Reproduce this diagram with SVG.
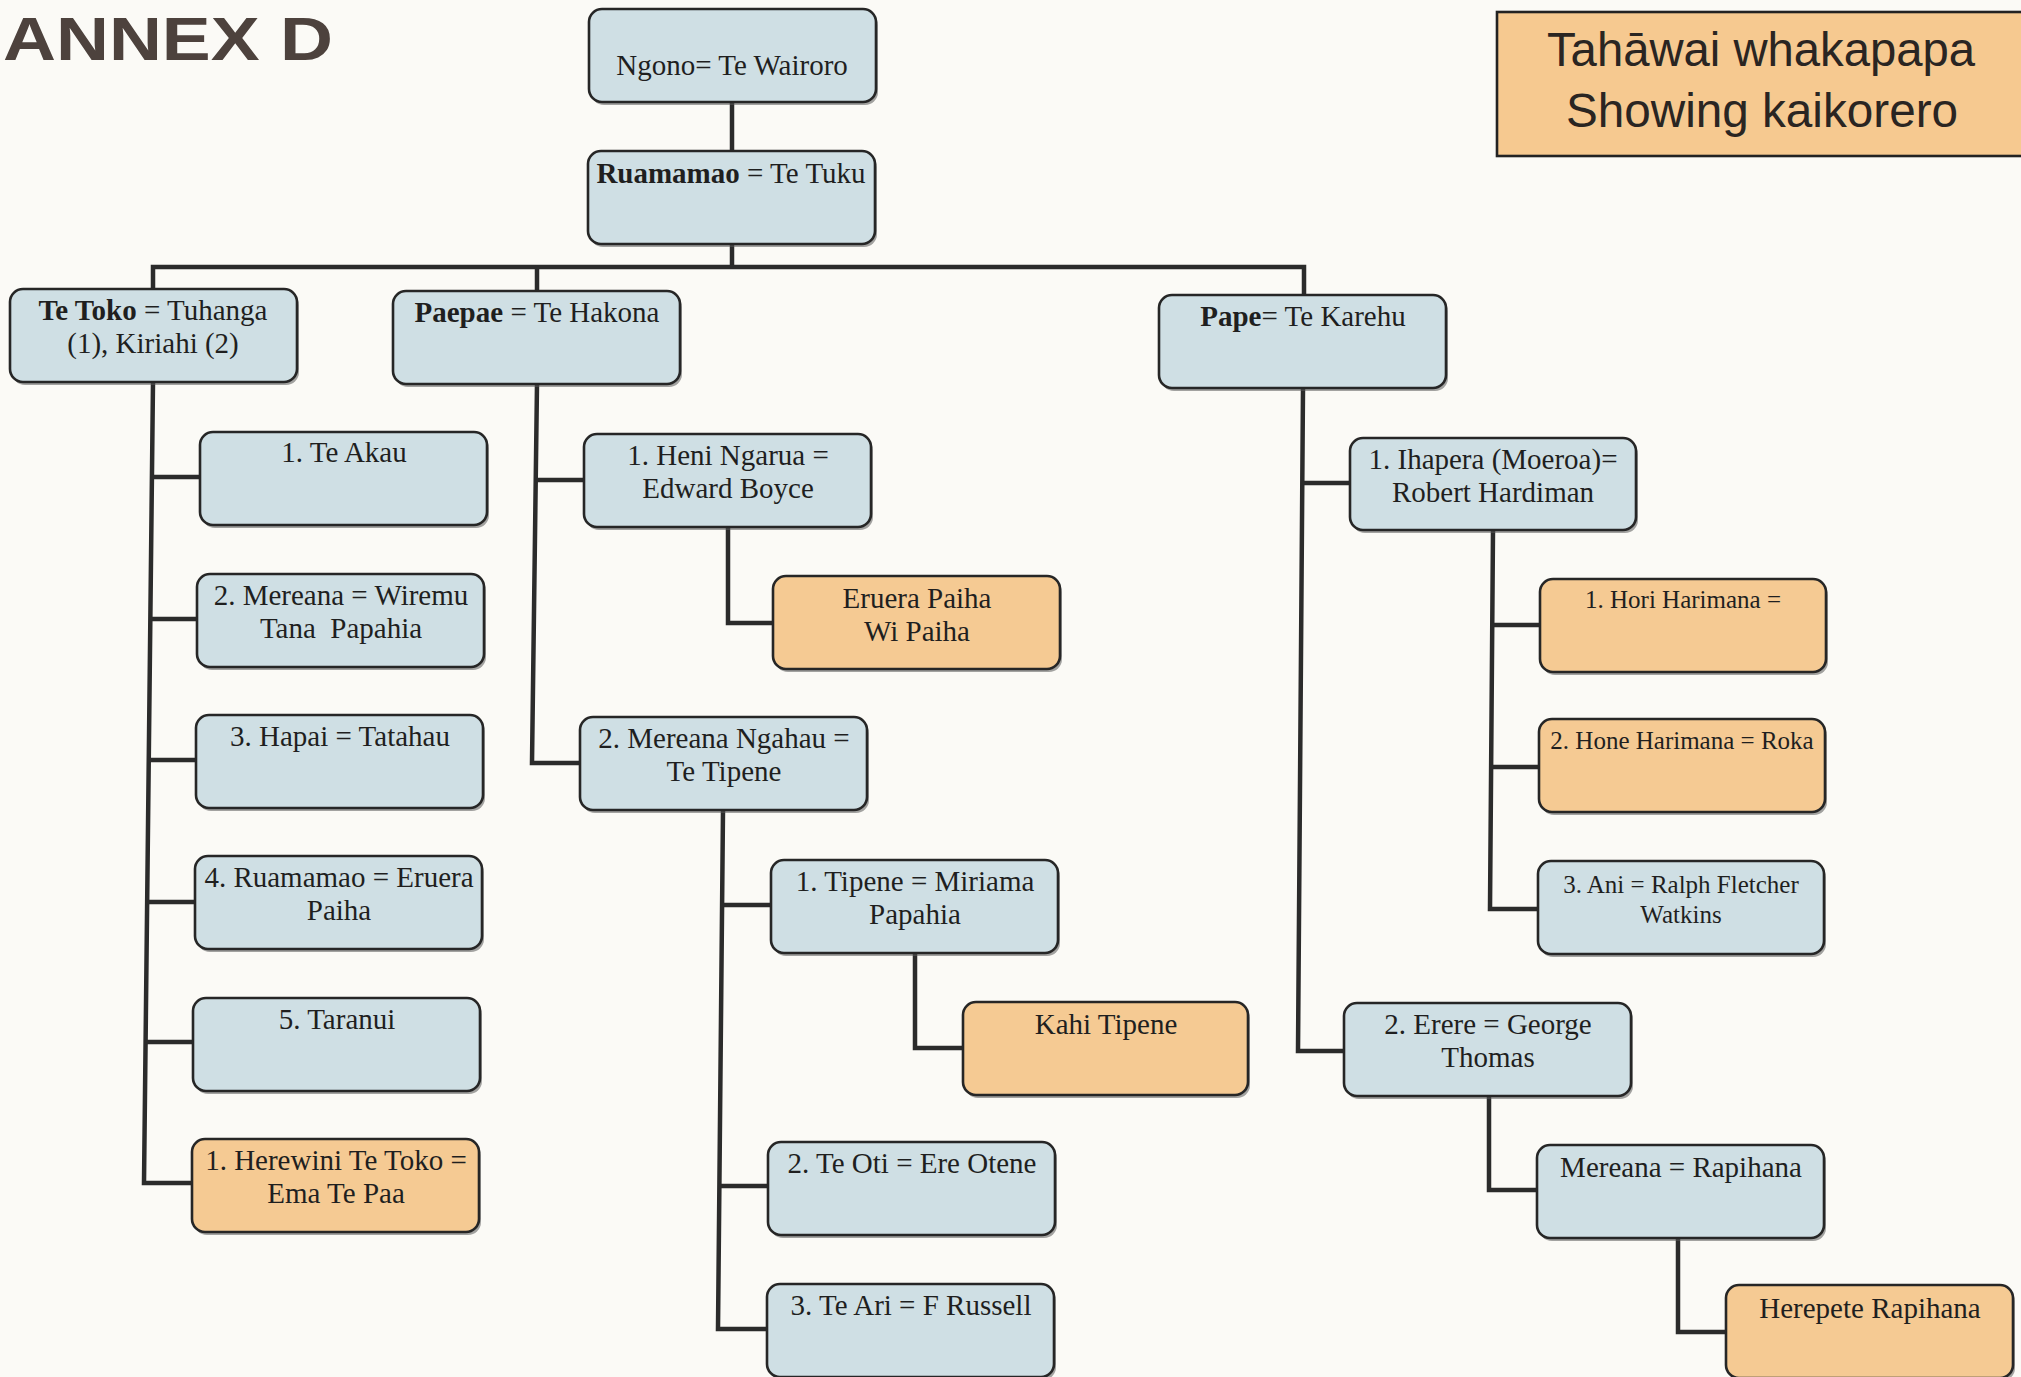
<svg xmlns="http://www.w3.org/2000/svg" width="2021" height="1377" viewBox="0 0 2021 1377">
<defs>
<style>
.bg{fill:#fbfaf6}
.box{stroke:#262626;stroke-width:2.6}
.blue{fill:#cfdfe4}
.orange{fill:#f5ca93}
.shadow{fill:#5a5a5a;opacity:0.55}
.t{font-family:"Liberation Serif","Times New Roman",serif;font-size:29px;fill:#1f1f1f;text-anchor:middle}
.ts{font-family:"Liberation Serif","Times New Roman",serif;font-size:25px;fill:#1f1f1f;text-anchor:middle}
.b{font-weight:bold}
.conn{fill:none;stroke:#2b2b2b;stroke-width:4.5;stroke-linejoin:miter}
.title{font-family:"Liberation Sans",Arial,sans-serif;font-size:48px;fill:#2a2522;text-anchor:middle}
.annex{font-family:"Liberation Sans",Arial,sans-serif;font-weight:bold;font-size:62px;fill:#4d423d}
</style>
</defs>
<rect class="bg" x="0" y="0" width="2021" height="1377"/>

<text class="annex" x="3" y="60" textLength="330" lengthAdjust="spacingAndGlyphs">ANNEX D</text>

<g id="title">
<rect x="1497" y="12" width="560" height="144" fill="#f6c990" stroke="#222" stroke-width="2.6"/>
<text class="title" x="1761" y="66" textLength="428" lengthAdjust="spacingAndGlyphs">Tahāwai whakapapa</text>
<text class="title" x="1762" y="127" textLength="392" lengthAdjust="spacingAndGlyphs">Showing kaikorero</text>
</g>

<g id="connectors">
<path class="conn" d="M732,103 V151"/>
<path class="conn" d="M732,244 V267"/>
<path class="conn" d="M153,289 V267 H1304 V295"/>
<path class="conn" d="M537,267 V291"/>
<path class="conn" d="M153,382 L144,1183 H192"/>
<path class="conn" d="M152,477 H200"/>
<path class="conn" d="M150,619 H197"/>
<path class="conn" d="M149,760 H196"/>
<path class="conn" d="M147,902 H195"/>
<path class="conn" d="M145,1042 H193"/>
<path class="conn" d="M537,384 L532,763 H580"/>
<path class="conn" d="M536,480 H584"/>
<path class="conn" d="M728,527 V623 H773"/>
<path class="conn" d="M723,810 L718,1329 H767"/>
<path class="conn" d="M722,905 H771"/>
<path class="conn" d="M719,1186 H768"/>
<path class="conn" d="M915,953 V1048 H963"/>
<path class="conn" d="M1303,388 L1298,1051 H1344"/>
<path class="conn" d="M1302,483 H1350"/>
<path class="conn" d="M1493,530 L1490,909 H1538"/>
<path class="conn" d="M1492,625 H1540"/>
<path class="conn" d="M1491,767 H1539"/>
<path class="conn" d="M1489,1096 V1190 H1537"/>
<path class="conn" d="M1678,1238 V1332 H1726"/>
</g>

<g id="n-ngono">
<rect class="shadow" x="591" y="12" width="287" height="93" rx="13"/>
<rect class="box blue" x="589" y="9" width="287" height="93" rx="13"/>
<text class="t" x="732" y="75">Ngono= Te Wairoro</text>
</g>
<g id="n-ruamamao">
<rect class="shadow" x="590" y="154" width="287" height="93" rx="13"/>
<rect class="box blue" x="588" y="151" width="287" height="93" rx="13"/>
<text class="t" x="731" y="183"><tspan class="b">Ruamamao</tspan> = Te Tuku</text>
</g>
<g id="n-tetoko">
<rect class="shadow" x="12" y="292" width="287" height="93" rx="13"/>
<rect class="box blue" x="10" y="289" width="287" height="93" rx="13"/>
<text class="t" x="153" y="320"><tspan class="b">Te Toko</tspan> = Tuhanga</text>
<text class="t" x="153" y="353">(1), Kiriahi (2)</text>
</g>
<g id="n-paepae">
<rect class="shadow" x="395" y="294" width="287" height="93" rx="13"/>
<rect class="box blue" x="393" y="291" width="287" height="93" rx="13"/>
<text class="t" x="537" y="322"><tspan class="b">Paepae</tspan> = Te Hakona</text>
</g>
<g id="n-pape">
<rect class="shadow" x="1161" y="298" width="287" height="93" rx="13"/>
<rect class="box blue" x="1159" y="295" width="287" height="93" rx="13"/>
<text class="t" x="1303" y="326"><tspan class="b">Pape</tspan>= Te Karehu</text>
</g>

<g id="n-teakau">
<rect class="shadow" x="202" y="435" width="287" height="93" rx="13"/>
<rect class="box blue" x="200" y="432" width="287" height="93" rx="13"/>
<text class="t" x="344" y="462">1. Te Akau</text>
</g>
<g id="n-mereana-wiremu">
<rect class="shadow" x="199" y="577" width="287" height="93" rx="13"/>
<rect class="box blue" x="197" y="574" width="287" height="93" rx="13"/>
<text class="t" x="341" y="605">2. Mereana = Wiremu</text>
<text class="t" x="341" y="638" style="white-space:pre">Tana  Papahia</text>
</g>
<g id="n-hapai">
<rect class="shadow" x="198" y="718" width="287" height="93" rx="13"/>
<rect class="box blue" x="196" y="715" width="287" height="93" rx="13"/>
<text class="t" x="340" y="746">3. Hapai = Tatahau</text>
</g>
<g id="n-ruamamao-eruera">
<rect class="shadow" x="197" y="859" width="287" height="93" rx="13"/>
<rect class="box blue" x="195" y="856" width="287" height="93" rx="13"/>
<text class="t" x="339" y="887">4. Ruamamao = Eruera</text>
<text class="t" x="339" y="920">Paiha</text>
</g>
<g id="n-taranui">
<rect class="shadow" x="195" y="1001" width="287" height="93" rx="13"/>
<rect class="box blue" x="193" y="998" width="287" height="93" rx="13"/>
<text class="t" x="337" y="1029">5. Taranui</text>
</g>
<g id="n-herewini">
<rect class="shadow" x="194" y="1142" width="287" height="93" rx="13"/>
<rect class="box orange" x="192" y="1139" width="287" height="93" rx="13"/>
<text class="t" x="336" y="1170">1. Herewini Te Toko =</text>
<text class="t" x="336" y="1203">Ema Te Paa</text>
</g>

<g id="n-heni">
<rect class="shadow" x="586" y="437" width="287" height="93" rx="13"/>
<rect class="box blue" x="584" y="434" width="287" height="93" rx="13"/>
<text class="t" x="728" y="465">1. Heni Ngarua =</text>
<text class="t" x="728" y="498">Edward Boyce</text>
</g>
<g id="n-eruera-paiha">
<rect class="shadow" x="775" y="579" width="287" height="93" rx="13"/>
<rect class="box orange" x="773" y="576" width="287" height="93" rx="13"/>
<text class="t" x="917" y="608">Eruera Paiha</text>
<text class="t" x="917" y="641">Wi Paiha</text>
</g>
<g id="n-mereana-ngahau">
<rect class="shadow" x="582" y="720" width="287" height="93" rx="13"/>
<rect class="box blue" x="580" y="717" width="287" height="93" rx="13"/>
<text class="t" x="724" y="748">2. Mereana Ngahau =</text>
<text class="t" x="724" y="781">Te Tipene</text>
</g>
<g id="n-tipene">
<rect class="shadow" x="773" y="863" width="287" height="93" rx="13"/>
<rect class="box blue" x="771" y="860" width="287" height="93" rx="13"/>
<text class="t" x="915" y="891">1. Tipene = Miriama</text>
<text class="t" x="915" y="924">Papahia</text>
</g>
<g id="n-kahi">
<rect class="shadow" x="965" y="1005" width="285" height="93" rx="13"/>
<rect class="box orange" x="963" y="1002" width="285" height="93" rx="13"/>
<text class="t" x="1106" y="1034">Kahi Tipene</text>
</g>
<g id="n-teoti">
<rect class="shadow" x="770" y="1145" width="287" height="93" rx="13"/>
<rect class="box blue" x="768" y="1142" width="287" height="93" rx="13"/>
<text class="t" x="912" y="1173">2. Te Oti = Ere Otene</text>
</g>
<g id="n-teari">
<rect class="shadow" x="769" y="1287" width="287" height="93" rx="13"/>
<rect class="box blue" x="767" y="1284" width="287" height="93" rx="13"/>
<text class="t" x="911" y="1315">3. Te Ari = F Russell</text>
</g>

<g id="n-ihapera">
<rect class="shadow" x="1352" y="441" width="286" height="92" rx="13"/>
<rect class="box blue" x="1350" y="438" width="286" height="92" rx="13"/>
<text class="t" x="1493" y="469">1. Ihapera (Moeroa)=</text>
<text class="t" x="1493" y="502">Robert Hardiman</text>
</g>
<g id="n-hori">
<rect class="shadow" x="1542" y="582" width="286" height="93" rx="13"/>
<rect class="box orange" x="1540" y="579" width="286" height="93" rx="13"/>
<text class="ts" x="1683" y="608">1. Hori Harimana =</text>
</g>
<g id="n-hone">
<rect class="shadow" x="1541" y="722" width="286" height="93" rx="13"/>
<rect class="box orange" x="1539" y="719" width="286" height="93" rx="13"/>
<text class="ts" x="1682" y="749">2. Hone Harimana = Roka</text>
</g>
<g id="n-ani">
<rect class="shadow" x="1540" y="864" width="286" height="93" rx="13"/>
<rect class="box blue" x="1538" y="861" width="286" height="93" rx="13"/>
<text class="ts" x="1681" y="893">3. Ani = Ralph Fletcher</text>
<text class="ts" x="1681" y="923">Watkins</text>
</g>
<g id="n-erere">
<rect class="shadow" x="1346" y="1006" width="287" height="93" rx="13"/>
<rect class="box blue" x="1344" y="1003" width="287" height="93" rx="13"/>
<text class="t" x="1488" y="1034">2. Erere = George</text>
<text class="t" x="1488" y="1067">Thomas</text>
</g>
<g id="n-mereana-rapihana">
<rect class="shadow" x="1539" y="1148" width="287" height="93" rx="13"/>
<rect class="box blue" x="1537" y="1145" width="287" height="93" rx="13"/>
<text class="t" x="1681" y="1177">Mereana = Rapihana</text>
</g>
<g id="n-herepete">
<rect class="shadow" x="1728" y="1288" width="287" height="93" rx="13"/>
<rect class="box orange" x="1726" y="1285" width="287" height="93" rx="13"/>
<text class="t" x="1870" y="1318">Herepete Rapihana</text>
</g>
</svg>
